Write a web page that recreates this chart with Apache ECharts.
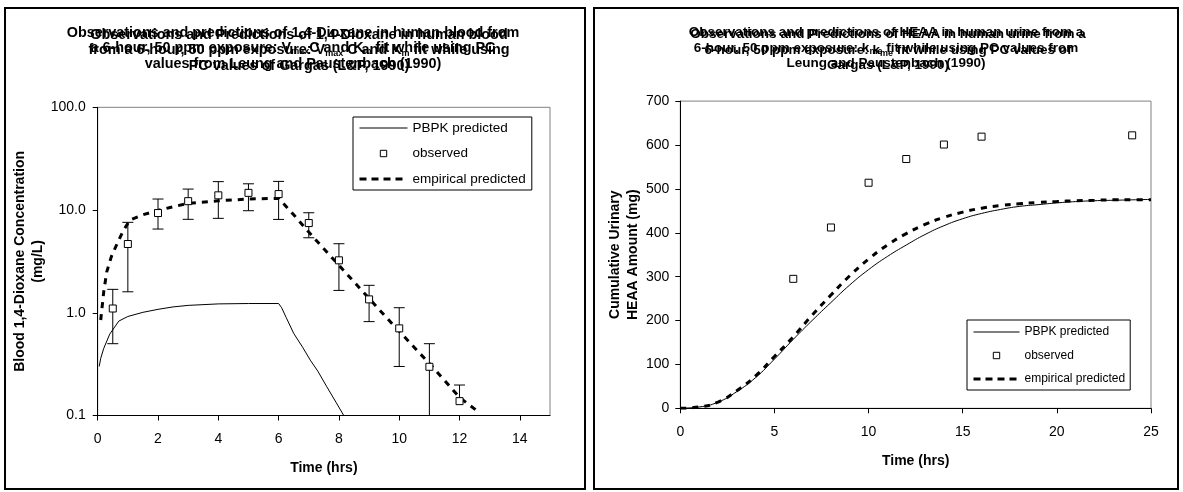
<!DOCTYPE html>
<html>
<head>
<meta charset="utf-8">
<script src="https://cdn.jsdelivr.net/npm/echarts@6/dist/echarts.min.js"></script>
<style>
  html, body { margin: 0; padding: 0; background: #fff; }
  #chart { width: 1183px; height: 492px; }
</style>
</head>
<body>
<div id="chart"></div>
<script>
// ---------- Left chart: 1,4-Dioxane in blood ----------
const bloodObsTime = [0.5, 1, 2, 3, 4, 5, 6, 7, 8, 9, 10, 11, 12];
const bloodObsConc = [1.10, 4.67, 9.35, 12.2, 13.9, 14.7, 14.3, 7.47, 3.24, 1.35, 0.705, 0.298, 0.138];
const bloodObsLow  = [0.50, 1.60, 6.53, 8.12, 8.3, 9.85, 8.1, 5.37, 1.65, 0.82, 0.30, 0.10, null];
const bloodObsHigh = [1.69, 7.59, 12.8, 16.0, 18.9, 18.0, 19.0, 9.41, 4.70, 1.85, 1.12, 0.50, 0.198];

const bloodPbpkTime = [0.05, 0.1, 0.2, 0.4, 0.7, 1.0, 1.5, 2.0, 2.5, 3.0, 4.0, 5.0, 6.0, 6.1, 6.25, 6.5, 6.8, 7.05, 7.3, 7.6, 7.9, 8.16];
const bloodPbpkConc = [0.30, 0.36, 0.45, 0.62, 0.83, 0.92, 1.01, 1.08, 1.14, 1.18, 1.22, 1.23, 1.23, 1.12, 0.90, 0.63, 0.46, 0.346, 0.27, 0.19, 0.135, 0.10];

const bloodEmpTime = [0.1, 0.2, 0.3, 0.45, 0.67, 0.85, 1.07, 1.5, 2.0, 2.4, 3.0, 4.0, 5.0, 6.0, 6.5, 7.0, 7.5, 8.0, 8.5, 9.0, 9.5, 10.0, 10.5, 11.0, 11.5, 12.0, 12.6];
const bloodEmpConc = [0.85, 1.6, 2.5, 3.5, 4.9, 6.3, 8.0, 9.0, 9.9, 10.6, 11.6, 12.3, 12.8, 13.0, 9.0, 6.1, 4.2, 2.9, 2.0, 1.38, 0.95, 0.66, 0.46, 0.32, 0.22, 0.15, 0.11];

const bloodXTicks = [0, 2, 4, 6, 8, 10, 12, 14];
const bloodYTicks = [0.1, 1, 10, 100];

// ---------- Right chart: HEAA in urine ----------
const urineObsTime = [6, 8, 10, 12, 14, 16, 24];
const urineObsAmt  = [295, 412, 514, 568, 601, 619, 622];

const urinePbpkTime = [0, 1, 2, 3, 4, 5, 6, 7, 8, 9, 10, 11, 12, 13, 14, 15, 16, 17, 18, 19, 20, 21, 22, 23, 24, 25];
const urinePbpkAmt  = [0, 3, 14, 38, 70, 112, 157, 200, 241, 281, 316, 346, 372, 396, 416, 432, 444, 453, 460, 464, 468, 471, 473, 474, 475, 476];

const urineEmpTime = [0, 1, 2, 3, 4, 5, 6, 7, 8, 9, 10, 11, 12, 13, 14, 15, 16, 17, 18, 19, 20, 21, 22, 23, 24, 25];
const urineEmpAmt  = [0, 3, 14, 40, 74, 118, 163, 212, 258, 302, 340, 372, 398, 419, 435, 447, 456, 462, 466, 469, 471, 473, 474, 475, 475, 475];

const urineXTicks = [0, 5, 10, 15, 20, 25];

const SER_PBPK = 'PBPK predicted';
const SER_OBS = 'observed';
const SER_EMP = 'empirical predicted';

const titleLeftA = 'Observations and predictions of 1,4-Dioxane in human blood from\na 6-hour, 50 ppm exposure: V{sub|max}C and K{sub|m} fit while using PC\nvalues from Leung and Paustenbach (1990)';
const titleLeftB = 'Observations and Predictions of 1,4-Dioxane in human blood\nfrom a 6-hour, 50 ppm exposure: V{sub|max} C and K{sub|m} fit while using\nPC values of Gargas (L&P, 1990)';
const titleRightA = 'Observations and predictions of HEAA in human urine from a\n6-hour, 50 ppm exposure: k{sub|me} fit while using PC values from\nLeung and Paustenbach (1990)';
const titleRightB = 'Observations and Predictions of HEAA in human urine from a\n6-hour, 50 ppm exposure: k{sub|me} fit while using PC values of\nGargas (L&P, 1990)';

// ---------- build ----------
const FONT = '"Liberation Sans", Arial, sans-serif';
const zip = (a, b) => a.map((v, i) => [v, b[i]]);

function titleText(x, y, text, size) {
  return {
    type: 'text', x: x, y: y, z: 10,
    style: {
      text: text, fill: '#000', fontFamily: FONT, fontSize: size, fontWeight: 'bold',
      lineHeight: 15.5, align: 'center', verticalAlign: 'top',
      rich: { sub: { fontFamily: FONT, fontSize: 9, fontWeight: 'bold', lineHeight: 15.5, verticalAlign: 'bottom', fill: '#000' } }
    }
  };
}

function renderErr(params, api) {
  const x = api.value(0), c = api.value(1), lo = api.value(2), hi = api.value(3);
  const hasLo = lo != null && !isNaN(lo);
  const pHi = api.coord([x, hi]);
  const pLo = api.coord([x, hasLo ? lo : c]);
  const half = 5.5;
  const st = { stroke: '#000', lineWidth: 1 };
  const children = [
    { type: 'line', shape: { x1: pHi[0], y1: pHi[1], x2: pLo[0], y2: pLo[1] }, style: st },
    { type: 'line', shape: { x1: pHi[0] - half, y1: pHi[1], x2: pHi[0] + half, y2: pHi[1] }, style: st }
  ];
  if (hasLo) children.push({ type: 'line', shape: { x1: pLo[0] - half, y1: pLo[1], x2: pLo[0] + half, y2: pLo[1] }, style: st });
  return { type: 'group', children: children };
}

const axisCommon = {
  axisLine: { show: true, onZero: false, lineStyle: { color: '#000', width: 1 } },
  axisTick: { show: true, inside: false, length: 5, lineStyle: { color: '#000' } },
  splitLine: { show: false },
  axisLabel: { color: '#000', fontFamily: FONT, fontSize: 14 },
  nameTextStyle: { color: '#000', fontFamily: FONT, fontSize: 14, fontWeight: 'bold', lineHeight: 18 }
};

function legendData() {
  return [
    { name: SER_PBPK, itemStyle: { opacity: 0 }, lineStyle: { width: 1, color: '#000', type: 'solid' } },
    { name: SER_OBS, lineStyle: { opacity: 0, width: 0 }, itemStyle: { color: '#fff', borderColor: '#000', borderWidth: 1, opacity: 1 } },
    { name: SER_EMP, itemStyle: { opacity: 0 }, lineStyle: { width: 3, color: '#000', type: [7, 5] } }
  ];
}

const option = {
  animation: false,
  backgroundColor: '#fff',
  textStyle: { fontFamily: FONT },
  grid: [
    { left: 97.7, top: 107.3, width: 452.3, height: 308.2, show: true, borderColor: '#808080', borderWidth: 1, backgroundColor: '#fff', containLabel: false, outerBoundsMode: 'none' },
    { left: 680.3, top: 101.1, width: 470.7, height: 307.2, show: true, borderColor: '#808080', borderWidth: 1, backgroundColor: '#fff', containLabel: false, outerBoundsMode: 'none' }
  ],
  xAxis: [
    Object.assign({}, axisCommon, {
      gridIndex: 0, type: 'value', min: 0, max: 15, interval: 2,
      name: 'Time (hrs)', nameLocation: 'middle', nameGap: 44,
      axisTick: Object.assign({}, axisCommon.axisTick, { customValues: bloodXTicks }),
      axisLabel: Object.assign({}, axisCommon.axisLabel, { margin: 17, customValues: bloodXTicks })
    }),
    Object.assign({}, axisCommon, {
      gridIndex: 1, type: 'value', min: 0, max: 25, interval: 5,
      name: 'Time (hrs)', nameLocation: 'middle', nameGap: 44,
      axisTick: Object.assign({}, axisCommon.axisTick, { customValues: urineXTicks }),
      axisLabel: Object.assign({}, axisCommon.axisLabel, { margin: 17, customValues: urineXTicks })
    })
  ],
  yAxis: [
    Object.assign({}, axisCommon, {
      gridIndex: 0, type: 'log', logBase: 10, min: 0.1, max: 100,
      name: 'Blood 1,4-Dioxane Concentration\n(mg/L)', nameLocation: 'middle', nameRotate: 90, nameGap: 38,
      axisTick: Object.assign({}, axisCommon.axisTick, { customValues: bloodYTicks }),
      minorTick: { show: false },
      axisLabel: Object.assign({}, axisCommon.axisLabel, { margin: 12, customValues: bloodYTicks, formatter: v => Number(v).toFixed(1) })
    }),
    Object.assign({}, axisCommon, {
      gridIndex: 1, type: 'value', min: 0, max: 700, interval: 100,
      name: 'Cumulative Urinary\nHEAA Amount (mg)', nameLocation: 'middle', nameRotate: 90, nameGap: 38,
      axisLabel: Object.assign({}, axisCommon.axisLabel, { margin: 11 })
    })
  ],
  legend: [
    {
      left: 353, top: 117, orient: 'vertical', selectedMode: false,
      borderColor: '#000', borderWidth: 1, backgroundColor: '#fff', borderRadius: 0,
      padding: [4, 6, 4, 5], itemGap: 11.5, itemWidth: 48, itemHeight: 8,
      textStyle: { color: '#000', fontFamily: FONT, fontSize: 13.5, lineHeight: 14 },
      data: legendData()
    },
    {
      left: 967, top: 320, orient: 'vertical', selectedMode: false,
      borderColor: '#000', borderWidth: 1, backgroundColor: '#fff', borderRadius: 0,
      padding: [5, 5, 4, 5], itemGap: 9.5, itemWidth: 46, itemHeight: 8,
      textStyle: { color: '#000', fontFamily: FONT, fontSize: 12, lineHeight: 14 },
      data: legendData()
    }
  ],
  series: [
    { name: SER_PBPK, type: 'line', xAxisIndex: 0, yAxisIndex: 0, data: zip(bloodPbpkTime, bloodPbpkConc),
      symbol: 'none', lineStyle: { color: '#000', width: 1 }, itemStyle: { color: '#000' }, z: 2 },
    { name: 'errorbars', type: 'custom', xAxisIndex: 0, yAxisIndex: 0,
      data: bloodObsTime.map((t, i) => [t, bloodObsConc[i], bloodObsLow[i], bloodObsHigh[i]]),
      encode: { x: 0, y: 1 }, renderItem: renderErr, z: 3, silent: true },
    { name: SER_OBS, type: 'line', xAxisIndex: 0, yAxisIndex: 0, data: zip(bloodObsTime, bloodObsConc),
      symbol: 'rect', symbolSize: 7, showSymbol: true, lineStyle: { opacity: 0, width: 0 },
      itemStyle: { color: '#fff', borderColor: '#000', borderWidth: 1 }, z: 5 },
    { name: SER_EMP, type: 'line', xAxisIndex: 0, yAxisIndex: 0, data: zip(bloodEmpTime, bloodEmpConc),
      symbol: 'none', lineStyle: { color: '#000', width: 3, type: [6, 6] }, itemStyle: { color: '#000' }, z: 4 },

    { name: SER_PBPK, type: 'line', xAxisIndex: 1, yAxisIndex: 1, data: zip(urinePbpkTime, urinePbpkAmt),
      symbol: 'none', smooth: 0.5, lineStyle: { color: '#000', width: 1 }, itemStyle: { color: '#000' }, z: 2 },
    { name: SER_OBS, type: 'line', xAxisIndex: 1, yAxisIndex: 1, data: zip(urineObsTime, urineObsAmt),
      symbol: 'rect', symbolSize: 7, showSymbol: true, lineStyle: { opacity: 0, width: 0 },
      itemStyle: { color: '#fff', borderColor: '#000', borderWidth: 1 }, z: 5 },
    { name: SER_EMP, type: 'line', xAxisIndex: 1, yAxisIndex: 1, data: zip(urineEmpTime, urineEmpAmt),
      symbol: 'none', smooth: 0.5, lineStyle: { color: '#000', width: 3, type: [6, 6] }, itemStyle: { color: '#000' }, z: 4 }
  ],
  graphic: [
    { type: 'rect', shape: { x: 5, y: 8, width: 580, height: 481 }, style: { fill: 'none', stroke: '#000', lineWidth: 2 }, z: 0, silent: true },
    { type: 'rect', shape: { x: 594, y: 8, width: 584, height: 481 }, style: { fill: 'none', stroke: '#000', lineWidth: 2 }, z: 0, silent: true },
    titleText(293, 25, titleLeftA, 14.4),
    titleText(299, 27, titleLeftB, 14.4),
    titleText(886, 25, titleRightA, 13.5),
    titleText(888, 27, titleRightB, 13.5)
  ]
};

const chart = echarts.init(document.getElementById('chart'), null, { renderer: 'canvas' });
chart.setOption(option);
</script>
</body>
</html>
